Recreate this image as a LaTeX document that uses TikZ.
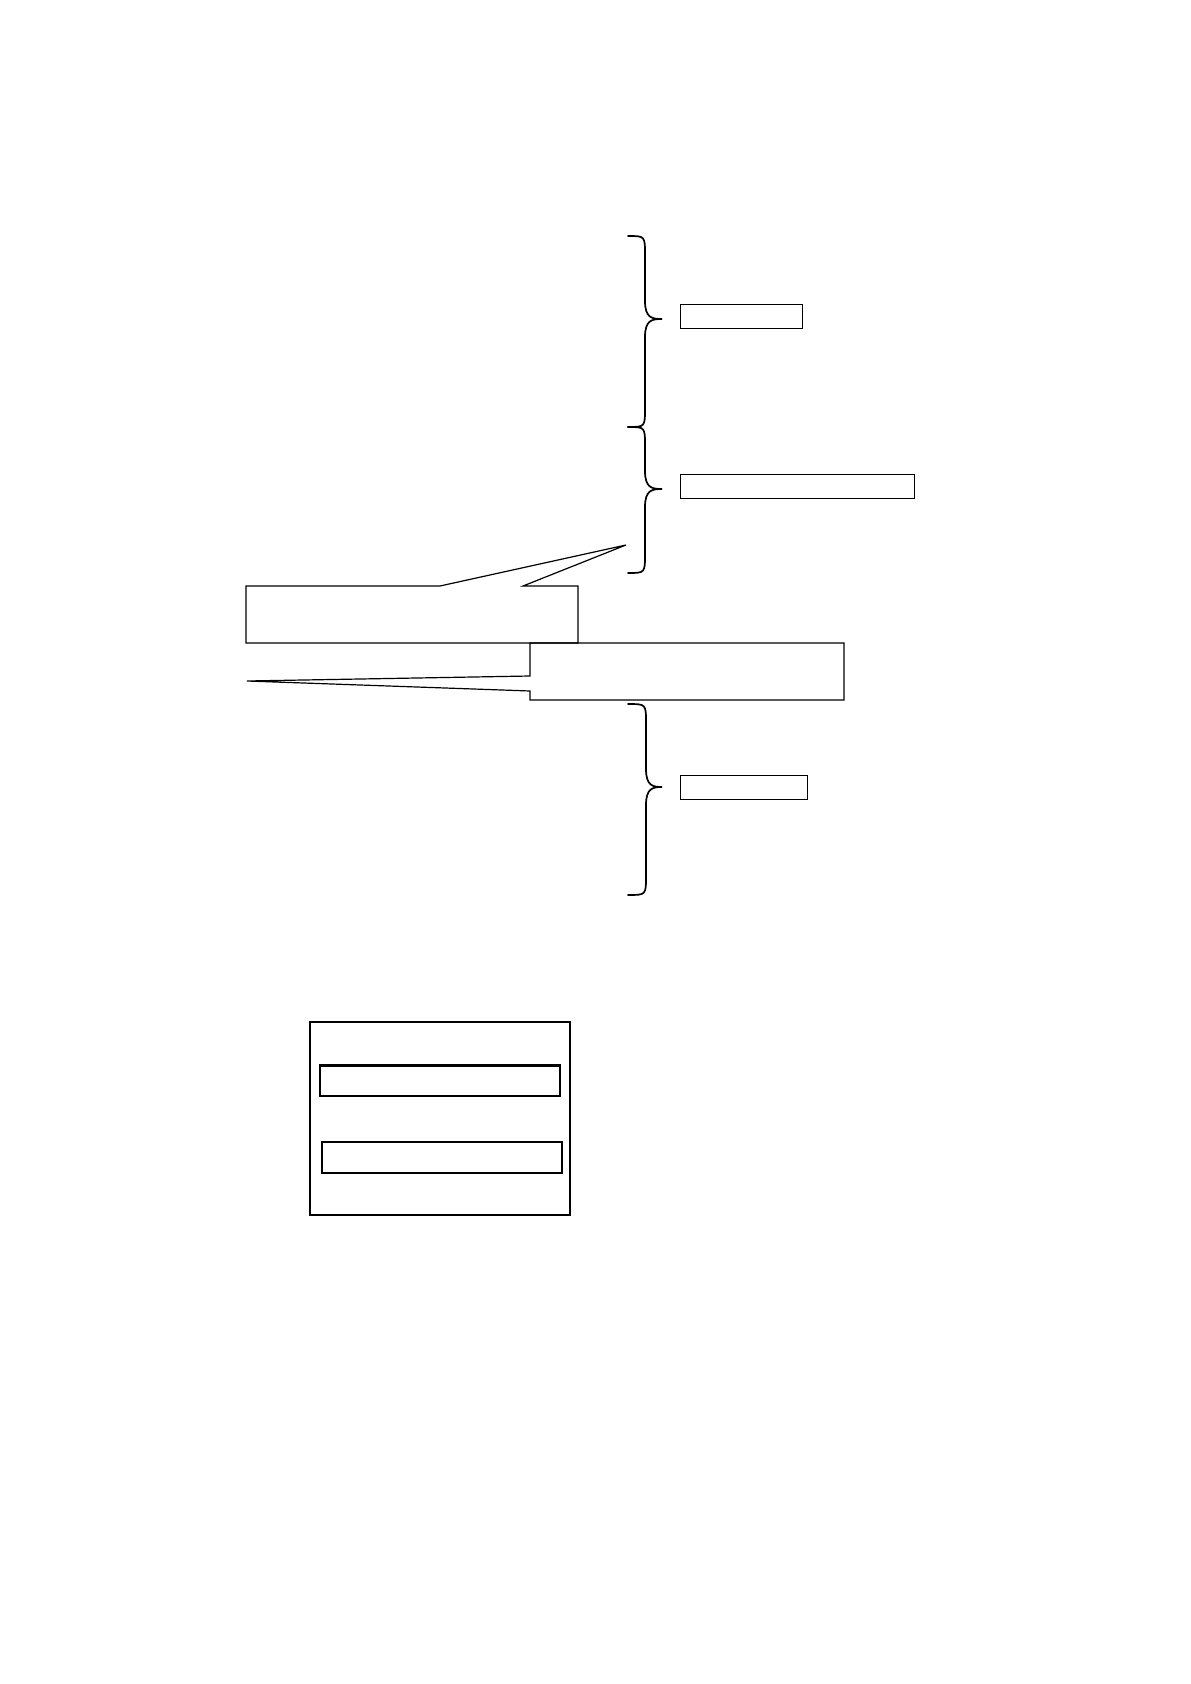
\documentclass[tikz,border=0pt]{standalone}
\begin{document}
\begin{tikzpicture}[x=0.5pt,y=-0.5pt,
  thinline/.style={line width=0.6pt, line join=miter},
  bracestyle/.style={line width=0.85pt, line cap=round},
  labelbox/.style={draw, line width=0.5pt, inner sep=0pt, minimum height=12pt},
  thickbox/.style={draw, line width=1pt, inner sep=0pt}]
\useasboundingbox (0,0) rectangle (1190,1684);

% braces
\draw[bracestyle] (628,236) .. controls (645,236) .. (645,255) -- (645,301)
  .. controls (645,318) and (652,319) .. (662,319) .. controls (652,319) and (645,320) .. (645,337)
  -- (645,408) .. controls (645,427) .. (628,427);
\draw[bracestyle] (628,427) .. controls (645,427) .. (645,446) -- (645,471)
  .. controls (645,488) and (652,489) .. (662,489) .. controls (652,489) and (645,490) .. (645,507)
  -- (645,554) .. controls (645,573) .. (628,573);
\draw[bracestyle] (628,704) .. controls (646,704) .. (646,723) -- (646,769)
  .. controls (646,786) and (653,787) .. (662,787) .. controls (653,787) and (646,788) .. (646,805)
  -- (646,876) .. controls (646,895) .. (628,895);

% label boxes beside the braces
\node[labelbox, minimum width=61pt] (b1) at (741,317) {};
\node[labelbox, minimum width=117pt] (b2) at (797,486) {};
\node[labelbox, minimum width=63.5pt] (b3) at (743.5,787) {};

% callouts
\coordinate (t1) at (626,545);
\coordinate (t2) at (247,681);
\draw[thinline] (246,586) -- (440,586) -- (t1) -- (523,586) -- (578,586)
  -- (578,643) -- (246,643) -- cycle;
\draw[thinline] (530,643) -- (844,643) -- (844,700) -- (530,700)
  -- (530,691) -- (t2) -- (530,676) -- cycle;

% bottom framed group
\node[thickbox, minimum width=130.25pt, minimum height=96.25pt] (outer) at (439.75,1118.25) {};
\node[draw, line width=1.3pt, inner sep=0pt, minimum width=120pt, minimum height=15.25pt] (in1) at (440,1080.75) {};
\node[thickbox, minimum width=120.25pt, minimum height=15.5pt] (in2) at (441.75,1157.5) {};
\end{tikzpicture}
\end{document}
